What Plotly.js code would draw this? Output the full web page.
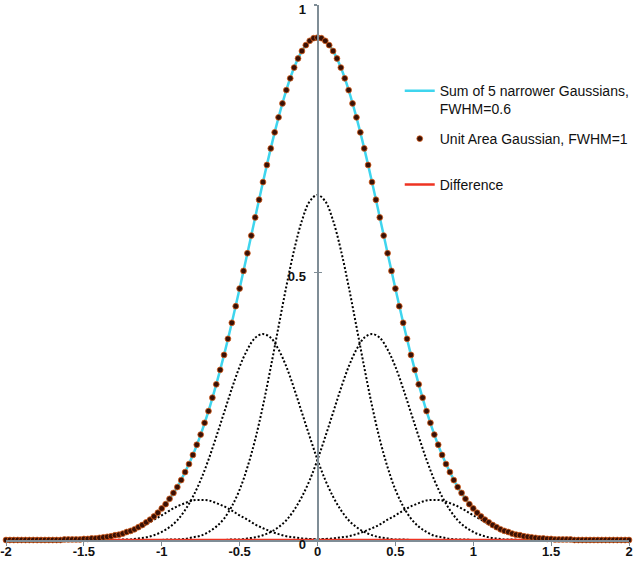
<!DOCTYPE html>
<html>
<head>
<meta charset="utf-8">
<script src="https://cdn.plot.ly/plotly-3.0.1.min.js"></script>
<style>html,body{margin:0;padding:0;background:#fff;}#chart{width:640px;height:561px;}</style>
</head>
<body>
<div id="chart"></div>
<script>
// ---- data ----
// x ticks
var xTickVals = [-2, -1.5, -1, -0.5, 0, 0.5, 1, 1.5, 2];
var xTickText = ["-2", "-1.5", "-1", "-0.5", "0", "0.5", "1", "1.5", "2"];
var yTickVals = [0, 0.5, 1];
var yTickText = ["0", "0.5", "1"];

// Unit area Gaussian (FWHM = 1), dots every 0.025 from -2 to 2
var unitGauss = [
  0,0,0,0,0,0,0,0,
  0,0,0,0,0,0,0,0.001,
  0.001,0.001,0.001,0.001,0.002,0.002,0.003,0.003,
  0.004,0.005,0.006,0.007,0.009,0.010,0.012,0.015,
  0.017,0.020,0.024,0.028,0.033,0.038,0.044,0.051,
  0.059,0.067,0.077,0.088,0.099,0.112,0.127,0.142,
  0.159,0.178,0.197,0.219,0.241,0.266,0.291,0.318,
  0.346,0.376,0.406,0.437,0.470,0.503,0.536,0.569,
  0.603,0.636,0.669,0.701,0.732,0.762,0.790,0.816,
  0.841,0.863,0.883,0.900,0.914,0.925,0.933,0.938,
  0.939,0.938,0.933,0.925,0.914,0.900,0.883,0.863,
  0.841,0.816,0.790,0.762,0.732,0.701,0.669,0.636,
  0.603,0.569,0.536,0.503,0.470,0.437,0.406,0.376,
  0.346,0.318,0.291,0.266,0.241,0.219,0.197,0.178,
  0.159,0.142,0.127,0.112,0.099,0.088,0.077,0.067,
  0.059,0.051,0.044,0.038,0.033,0.028,0.024,0.020,
  0.017,0.015,0.012,0.010,0.009,0.007,0.006,0.005,
  0.004,0.003,0.003,0.002,0.002,0.001,0.001,0.001,
  0.001,0.001,0,0,0,0,0,0,
  0,0,0,0,0,0,0,0,
  0
];

// Sum of 5 narrower Gaussians (FWHM = 0.6), every 0.05 from -2 to 2
var sumNarrow = [
  0,0,0,0,0,0,0,0,
  0.001,0.001,0.002,0.003,0.004,0.006,0.009,0.012,
  0.017,0.024,0.033,0.044,0.059,0.077,0.099,0.127,
  0.159,0.197,0.241,0.291,0.346,0.406,0.470,0.536,
  0.603,0.669,0.732,0.790,0.841,0.883,0.914,0.933,
  0.939,0.933,0.914,0.883,0.841,0.790,0.732,0.669,
  0.603,0.536,0.470,0.406,0.346,0.291,0.241,0.197,
  0.159,0.127,0.099,0.077,0.059,0.044,0.033,0.024,
  0.017,0.012,0.009,0.006,0.004,0.003,0.002,0.001,
  0.001,0,0,0,0,0,0,0,
  0
];

// The five narrower Gaussians, every 0.05 from -2 to 2
var narrowOuterLeft = [
  0,0,0,0,0,0,0,0,
  0,0.001,0.001,0.002,0.003,0.005,0.007,0.011,
  0.016,0.022,0.029,0.038,0.046,0.055,0.063,0.069,
  0.074,0.075,0.074,0.069,0.063,0.055,0.046,0.038,
  0.029,0.022,0.016,0.011,0.007,0.005,0.003,0.002,
  0.001,0.001,0,0,0,0,0,0,
  0,0,0,0,0,0,0,0,
  0,0,0,0,0,0,0,0,
  0,0,0,0,0,0,0,0,
  0,0,0,0,0,0,0,0,
  0
];
var narrowInnerLeft = [
  0,0,0,0,0,0,0,0,
  0,0,0,0,0,0,0,0.001,
  0.001,0.003,0.005,0.009,0.015,0.024,0.037,0.056,
  0.081,0.112,0.150,0.193,0.238,0.283,0.324,0.356,
  0.378,0.385,0.378,0.356,0.324,0.283,0.238,0.193,
  0.150,0.112,0.081,0.056,0.037,0.024,0.015,0.009,
  0.005,0.003,0.001,0.001,0,0,0,0,
  0,0,0,0,0,0,0,0,
  0,0,0,0,0,0,0,0,
  0,0,0,0,0,0,0,0,
  0
];
var narrowCenter = [
  0,0,0,0,0,0,0,0,
  0,0,0,0,0,0,0,0,
  0,0,0,0,0,0.001,0.001,0.002,
  0.005,0.008,0.015,0.025,0.040,0.063,0.094,0.136,
  0.188,0.251,0.323,0.399,0.474,0.542,0.597,0.633,
  0.645,0.633,0.597,0.542,0.474,0.399,0.323,0.251,
  0.188,0.136,0.094,0.063,0.040,0.025,0.015,0.008,
  0.005,0.002,0.001,0.001,0,0,0,0,
  0,0,0,0,0,0,0,0,
  0,0,0,0,0,0,0,0,
  0
];
var narrowInnerRight = [
  0,0,0,0,0,0,0,0,
  0,0,0,0,0,0,0,0,
  0,0,0,0,0,0,0,0,
  0,0,0,0,0,0.001,0.001,0.003,
  0.005,0.009,0.015,0.024,0.037,0.056,0.081,0.112,
  0.150,0.193,0.238,0.283,0.324,0.356,0.378,0.385,
  0.378,0.356,0.324,0.283,0.238,0.193,0.150,0.112,
  0.081,0.056,0.037,0.024,0.015,0.009,0.005,0.003,
  0.001,0.001,0,0,0,0,0,0,
  0,0,0,0,0,0,0,0,
  0
];
var narrowOuterRight = [
  0,0,0,0,0,0,0,0,
  0,0,0,0,0,0,0,0,
  0,0,0,0,0,0,0,0,
  0,0,0,0,0,0,0,0,
  0,0,0,0,0,0,0,0.001,
  0.001,0.002,0.003,0.005,0.007,0.011,0.016,0.022,
  0.029,0.038,0.046,0.055,0.063,0.069,0.074,0.075,
  0.074,0.069,0.063,0.055,0.046,0.038,0.029,0.022,
  0.016,0.011,0.007,0.005,0.003,0.002,0.001,0.001,
  0,0,0,0,0,0,0,0,
  0
];

// Difference (sum minus unit Gaussian), every 0.5 from -2 to 2
var differenceX = [-2, -1.5, -1, -0.5, 0, 0.5, 1, 1.5, 2];
var difference = [0, 0, 0, 0, 0, 0, 0, 0, 0];

var legendSum = "Sum of 5 narrower Gaussians,<br>FWHM=0.6";
var legendUnit = "Unit Area Gaussian, FWHM=1";
var legendDiff = "Difference";

// ---- sample positions ----
function grid(start, step, n) {
  var out = [];
  for (var i = 0; i < n; i++) out.push(Math.round((start + i * step) * 1000) / 1000);
  return out;
}
var xFine = grid(-2, 0.025, unitGauss.length);
var xCoarse = grid(-2, 0.05, sumNarrow.length);

var dotLine = {color: '#000000', width: 2, dash: '2px,2px', shape: 'spline'};
function narrowTrace(vals) {
  return {x: xCoarse, y: vals, type: 'scatter', mode: 'lines', line: dotLine,
          showlegend: false, hoverinfo: 'skip'};
}

var traces = [
  narrowTrace(narrowOuterLeft),
  narrowTrace(narrowInnerLeft),
  narrowTrace(narrowCenter),
  narrowTrace(narrowInnerRight),
  narrowTrace(narrowOuterRight),
  {x: xCoarse, y: sumNarrow, type: 'scatter', mode: 'lines', name: legendSum,
   line: {color: '#3fd5ee', width: 2.5, shape: 'spline'}, legend: 'legend', cliponaxis: false},
  {x: differenceX, y: difference, type: 'scatter', mode: 'lines', name: legendDiff,
   line: {color: '#ee3322', width: 2.5}, legend: 'legend3', cliponaxis: false},
  {x: xFine, y: unitGauss, type: 'scatter', mode: 'markers', name: legendUnit,
   marker: {color: '#3a1004', size: 5.8, line: {color: '#d8601e', width: 0.8}},
   legend: 'legend2', cliponaxis: false},
  {x: [0], y: [null], yaxis: 'y2', type: 'scatter', mode: 'markers', showlegend: false, hoverinfo: 'skip'}
];

var axisGray = '#7f8d96';
var tickFont = {family: 'Liberation Sans, Arial, sans-serif', size: 13, color: '#111111', weight: 'bold'};
var legFont = {family: 'Liberation Sans, Arial, sans-serif', size: 14, color: '#111111'};

var layout = {
  width: 640, height: 561,
  margin: {l: 6, r: 6, t: 5, b: 21},
  paper_bgcolor: '#ffffff', plot_bgcolor: '#ffffff',
  xaxis: {range: [-2, 2], tickvals: xTickVals, ticktext: xTickText, ticks: 'outside', ticklen: 4,
          tickwidth: 1, tickcolor: axisGray, showline: true, linecolor: axisGray, linewidth: 2,
          showgrid: false, zeroline: false, tickfont: tickFont, ticklabeloverflow: 'allow',
          ticklabelstandoff: -6},
  yaxis: {range: [0, 1], tickvals: yTickVals, ticktext: yTickText, ticks: 'outside', ticklen: 3,
          tickwidth: 1.5, tickcolor: axisGray, showline: true, linecolor: axisGray, linewidth: 2,
          anchor: 'free', position: 0.5, showgrid: false, zeroline: false, tickfont: tickFont,
          ticklabeloverflow: 'allow', ticklabelstandoff: 5, ticklabelshift: 4},
  yaxis2: {range: [0, 1], overlaying: 'y', anchor: 'free', position: 0.5, side: 'left',
           tickvals: yTickVals, ticks: 'inside', ticklen: 3, tickwidth: 1.5, tickcolor: axisGray,
           showticklabels: false, showline: false, showgrid: false, zeroline: false},
  legend: {x: 0.632, y: 0.822, xanchor: 'left', yanchor: 'middle', valign: 'top',
           bgcolor: 'rgba(0,0,0,0)', font: legFont, borderwidth: 0},
  legend2: {x: 0.632, y: 0.7495, xanchor: 'left', yanchor: 'middle',
           bgcolor: 'rgba(0,0,0,0)', font: legFont, borderwidth: 0},
  legend3: {x: 0.632, y: 0.6636, xanchor: 'left', yanchor: 'middle',
           bgcolor: 'rgba(0,0,0,0)', font: legFont, borderwidth: 0},
  showlegend: true
};

Plotly.newPlot('chart', traces, layout, {staticPlot: true, displayModeBar: false});
</script>
</body>
</html>
